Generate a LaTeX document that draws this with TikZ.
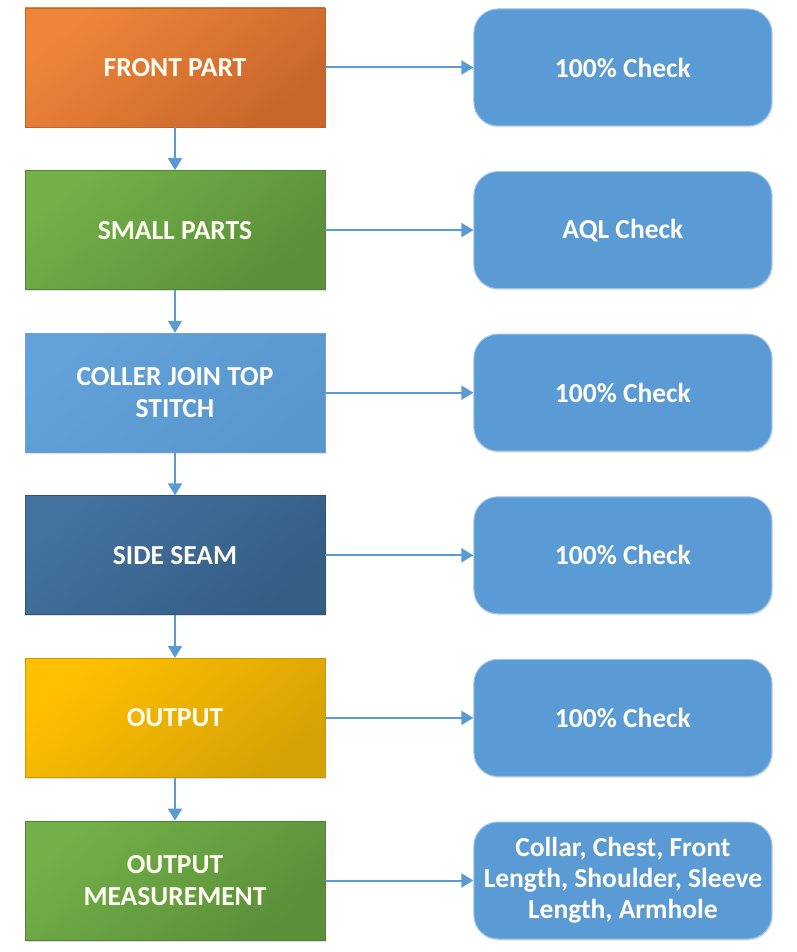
\documentclass[tikz,border=0pt]{standalone}
\usepackage{fontspec}
\setmainfont{Carlito}
\usetikzlibrary{positioning, arrows.meta, shadows}

\definecolor{flowline}{HTML}{5B9BD5}
\definecolor{checkfill}{HTML}{5B9BD5}
\definecolor{checkedge}{HTML}{9DC3E6}
\definecolor{textwhite}{HTML}{FFFDF2}
\definecolor{orangeA}{HTML}{EE8539}
\definecolor{orangeB}{HTML}{C8662B}
\definecolor{orangeC}{HTML}{C0632E}
\definecolor{greenA}{HTML}{72B048}
\definecolor{greenB}{HTML}{5B8F39}
\definecolor{greenC}{HTML}{548235}
\definecolor{skyA}{HTML}{62A1D9}
\definecolor{skyB}{HTML}{5896CE}
\definecolor{skyC}{HTML}{6FA3D4}
\definecolor{navyA}{HTML}{43729F}
\definecolor{navyB}{HTML}{345D84}
\definecolor{navyC}{HTML}{2F5380}
\definecolor{goldA}{HTML}{FFC000}
\definecolor{goldB}{HTML}{D6A104}
\definecolor{goldC}{HTML}{C9980A}

\begin{document}
\begin{tikzpicture}[
		x=1pt, y=1pt,
		% Node styles
		process/.style={rectangle, minimum width=300pt, minimum height=119pt, align=center,
			text=textwhite, font=\fontsize{27.5}{32}\selectfont\bfseries, line width=0.8pt,
			drop shadow={opacity=0.25, shadow xshift=1.2pt, shadow yshift=-1.5pt}},
		shaded/.style n args={3}{top color=#1, bottom color=#2, shading angle=40, draw=#3},
		check/.style={rectangle, rounded corners=24pt, minimum width=298pt, minimum height=117pt,
			align=center, text=textwhite, font=\fontsize{27.5}{31}\selectfont\bfseries,
			fill=checkfill, draw=checkedge, line width=1pt, inner sep=1pt,
			drop shadow={opacity=0.2, shadow xshift=1pt, shadow yshift=-1.5pt}},
		% Connector style
		flow/.style={-{Triangle[width=14pt, length=12pt]}, line width=2pt, flowline}
		]
		\useasboundingbox (0,0) rectangle (796,-952);

		% Process steps (left column)
		\node[process, shaded={orangeA}{orangeB}{orangeC}] (front) at (175,-67.5) {FRONT PART};
		\node[process, shaded={greenA}{greenB}{greenC}, below=42.8pt of front] (small) {SMALL PARTS};
		\node[process, shaded={skyA}{skyB}{skyC}, below=42.8pt of small] (coller) {COLLER JOIN TOP\\STITCH};
		\node[process, shaded={navyA}{navyB}{navyC}, below=42.8pt of coller] (seam) {SIDE SEAM};
		\node[process, shaded={goldA}{goldB}{goldC}, below=42.8pt of seam] (output) {OUTPUT};
		\node[process, shaded={greenA}{greenB}{greenC}, below=42.8pt of output] (measure) {OUTPUT\\MEASUREMENT};

		% Checks (right column)
		\node[check, right=148pt of front] (checkA) {100\% Check};
		\node[check, right=148pt of small] (checkB) {AQL Check};
		\node[check, right=148pt of coller] (checkC) {100\% Check};
		\node[check, right=148pt of seam] (checkD) {100\% Check};
		\node[check, right=148pt of output] (checkE) {100\% Check};
		\node[check, right=148pt of measure] (checkF) {Collar, Chest, Front\\Length, Shoulder, Sleeve\\Length, Armhole};

		% Flow down the line
		\draw[flow] (front) -- (small);
		\draw[flow] (small) -- (coller);
		\draw[flow] (coller) -- (seam);
		\draw[flow] (seam) -- (output);
		\draw[flow] (output) -- (measure);

		% Inspection at each step
		\draw[flow] (front) -- (checkA);
		\draw[flow] (small) -- (checkB);
		\draw[flow] (coller) -- (checkC);
		\draw[flow] (seam) -- (checkD);
		\draw[flow] (output) -- (checkE);
		\draw[flow] (measure) -- (checkF);

	\end{tikzpicture}
\end{document}
